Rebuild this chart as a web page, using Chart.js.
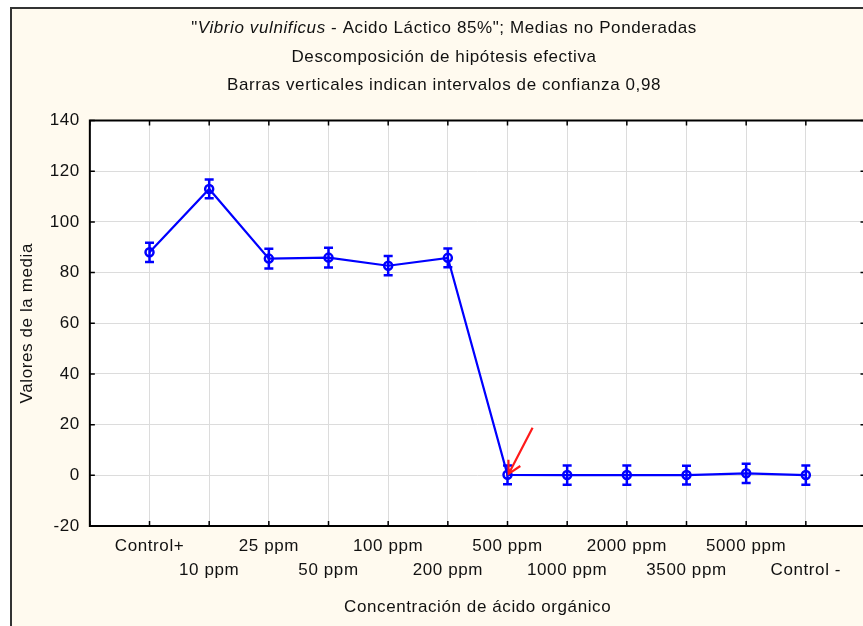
<!DOCTYPE html>
<html>
<head>
<meta charset="utf-8">
<title>Vibrio vulnificus - Acido Láctico 85%</title>
<script src="https://cdn.jsdelivr.net/npm/chart.js@4.4.1/dist/chart.umd.min.js"></script>
<style>
  html, body { margin: 0; padding: 0; background: #ffffff; overflow: hidden; }
  #wrap { width: 863px; height: 626px; overflow: hidden; }
  canvas { display: block; }
</style>
</head>
<body>
<div id="wrap">
  <canvas id="grafico" width="872" height="626"></canvas>
</div>
<script>
  // Datos
  const categorias = ['Control+', '10 ppm', '25 ppm', '50 ppm', '100 ppm', '200 ppm',
                      '500 ppm', '1000 ppm', '2000 ppm', '3500 ppm', '5000 ppm', 'Control -'];
  const medias = [88.0, 113.0, 85.5, 85.9, 82.7, 85.8, 0.2, 0.1, 0.1, 0.1, 0.8, 0.1];
  const intervalo = [3.8, 3.7, 3.9, 3.9, 3.8, 3.7, 3.7, 3.8, 3.8, 3.7, 3.8, 3.8];
  const yMin = -20, yMax = 140, yPaso = 20;

  // flecha roja (coordenadas en unidades de los ejes)
  const flechaDesde = { x: 6.42, y: 18.8 };
  const flechaHasta = { x: 6.02, y: 0.6 };

  const titulo2 = 'Descomposición de hipótesis efectiva';
  const titulo3 = 'Barras verticales indican intervalos de confianza 0,98';

  const FUENTE = '"Liberation Sans", Arial, sans-serif';
  const ESPACIADO = '0.6px';
  const AZUL = '#0000ff';

  const fondo = {
    id: 'fondo',
    beforeDraw(chart) {
      const { ctx, chartArea: a } = chart;
      ctx.save();
      ctx.fillStyle = '#ffffff';
      ctx.fillRect(0, 0, chart.width, chart.height);
      ctx.fillStyle = '#fffaef';
      ctx.fillRect(11, 8, chart.width, chart.height);
      ctx.fillStyle = '#ffffff';
      ctx.fillRect(a.left, a.top, a.right - a.left, a.bottom - a.top);
      // marco exterior
      ctx.strokeStyle = '#333333';
      ctx.lineWidth = 2;
      ctx.beginPath();
      ctx.moveTo(11, chart.height);
      ctx.lineTo(11, 8);
      ctx.lineTo(chart.width, 8);
      ctx.stroke();
      ctx.restore();
      ctx.letterSpacing = ESPACIADO;
    }
  };

  const titulos = {
    id: 'titulos',
    afterDraw(chart) {
      const ctx = chart.ctx;
      const cx = 444;
      ctx.save();
      ctx.letterSpacing = ESPACIADO;
      ctx.fillStyle = '#111111';
      ctx.textBaseline = 'middle';
      const normal = '17px ' + FUENTE;
      const italica = 'italic 17px ' + FUENTE;
      const partes = [['"', normal], ['Vibrio vulnificus', italica],
                      [' - Acido Láctico 85%"; Medias no Ponderadas', normal]];
      let total = 0;
      partes.forEach(p => { ctx.font = p[1]; total += ctx.measureText(p[0]).width; });
      let x = cx - total / 2;
      ctx.textAlign = 'left';
      partes.forEach(p => {
        ctx.font = p[1];
        ctx.fillText(p[0], x, 28);
        x += ctx.measureText(p[0]).width;
      });
      ctx.font = normal;
      ctx.textAlign = 'center';
      ctx.fillText(titulo2, cx, 57);
      ctx.fillText(titulo3, cx, 85);
      ctx.restore();
    }
  };

  const barrasError = {
    id: 'barrasError',
    beforeDatasetsDraw(chart) {
      const { ctx, scales: { x, y } } = chart;
      ctx.save();
      ctx.strokeStyle = AZUL;
      ctx.lineWidth = 2.5;
      medias.forEach((m, i) => {
        const px = x.getPixelForValue(i);
        const arriba = y.getPixelForValue(m + intervalo[i]);
        const abajo = y.getPixelForValue(m - intervalo[i]);
        ctx.beginPath();
        ctx.moveTo(px, arriba); ctx.lineTo(px, abajo);
        ctx.moveTo(px - 4.5, arriba); ctx.lineTo(px + 4.5, arriba);
        ctx.moveTo(px - 4.5, abajo); ctx.lineTo(px + 4.5, abajo);
        ctx.stroke();
      });
      ctx.restore();
    }
  };

  const marcoYFlecha = {
    id: 'marcoYFlecha',
    afterDatasetsDraw(chart) {
      const { ctx, chartArea: a, scales: { x, y } } = chart;
      ctx.save();
      ctx.strokeStyle = '#000000';
      ctx.lineWidth = 2;
      ctx.strokeRect(a.left, a.top, a.right - a.left, a.bottom - a.top);
      ctx.lineWidth = 1.5;
      ctx.beginPath();
      x.ticks.forEach(t => {
        const px = x.getPixelForValue(t.value);
        ctx.moveTo(px, a.bottom); ctx.lineTo(px, a.bottom - 5);
        ctx.moveTo(px, a.top); ctx.lineTo(px, a.top + 5);
      });
      y.ticks.forEach(t => {
        const py = y.getPixelForValue(t.value);
        ctx.moveTo(a.left, py); ctx.lineTo(a.left + 5, py);
        ctx.moveTo(a.right, py); ctx.lineTo(a.right - 5, py);
      });
      ctx.stroke();

      // flecha roja
      const x1 = x.getPixelForValue(flechaDesde.x), y1 = y.getPixelForValue(flechaDesde.y);
      const x2 = x.getPixelForValue(flechaHasta.x), y2 = y.getPixelForValue(flechaHasta.y);
      const ang = Math.atan2(y1 - y2, x1 - x2);
      ctx.strokeStyle = '#ff1a1a';
      ctx.lineWidth = 2.2;
      ctx.beginPath();
      ctx.moveTo(x1, y1); ctx.lineTo(x2, y2);
      ctx.moveTo(x2 + 14 * Math.cos(ang - 0.5), y2 + 14 * Math.sin(ang - 0.5));
      ctx.lineTo(x2, y2);
      ctx.lineTo(x2 + 14 * Math.cos(ang + 0.5), y2 + 14 * Math.sin(ang + 0.5));
      ctx.stroke();
      ctx.restore();
    }
  };

  new Chart(document.getElementById('grafico'), {
    type: 'line',
    data: {
      datasets: [{
        data: medias.map((m, i) => ({ x: i, y: m })),
        borderColor: AZUL,
        borderWidth: 2.2,
        pointRadius: 4,
        pointBorderWidth: 2.5,
        pointBorderColor: AZUL,
        pointBackgroundColor: 'rgba(0,0,0,0)',
        tension: 0
      }]
    },
    options: {
      responsive: false,
      devicePixelRatio: 1,
      animation: false,
      layout: { padding: { left: 0, right: 2.2, top: 120.5, bottom: 0 } },
      plugins: { legend: { display: false }, title: { display: false }, tooltip: { enabled: false } },
      scales: {
        x: {
          type: 'linear',
          min: -1,
          max: 12,
          afterFit: s => { s.height = 100; s.paddingLeft = 0; s.paddingRight = 0; },
          afterBuildTicks: s => {
            s.ticks = [];
            for (let v = -1; v <= 12; v++) s.ticks.push({ value: v });
          },
          border: { display: false },
          grid: { color: '#dcdcdc', lineWidth: 1, drawTicks: false },
          ticks: {
            autoSkip: false,
            maxRotation: 0,
            minRotation: 0,
            padding: 9,
            color: '#111111',
            font: { family: FUENTE, size: 17, lineHeight: 1.37 },
            callback: v => {
              const c = categorias[v];
              if (c === undefined) return '';
              return v % 2 === 0 ? [c, ''] : ['', c];
            }
          },
          title: {
            display: true,
            text: 'Concentración de ácido orgánico',
            color: '#111111',
            font: { family: FUENTE, size: 17 },
            padding: { top: 0, bottom: 8.1 }
          }
        },
        y: {
          min: yMin,
          max: yMax,
          afterFit: s => { s.width = 89.85; s.paddingTop = 0; s.paddingBottom = 0; },
          border: { display: false },
          grid: { color: '#dcdcdc', lineWidth: 1, drawTicks: false },
          ticks: {
            stepSize: yPaso,
            padding: 10,
            color: '#111111',
            font: { family: FUENTE, size: 17 }
          },
          title: {
            display: true,
            text: 'Valores de la media',
            color: '#111111',
            font: { family: FUENTE, size: 17 },
            padding: { top: 16.8, bottom: 0 }
          }
        }
      }
    },
    plugins: [fondo, barrasError, marcoYFlecha, titulos]
  });
</script>
</body>
</html>
